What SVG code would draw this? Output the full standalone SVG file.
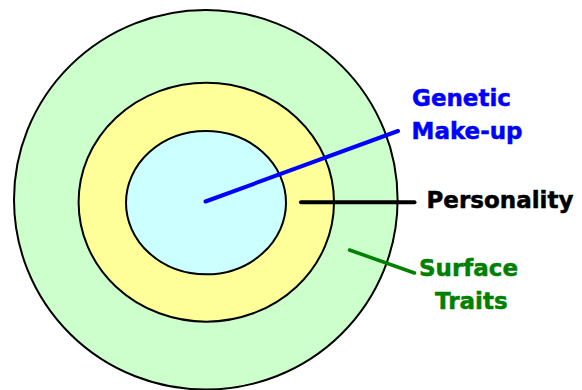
<svg xmlns="http://www.w3.org/2000/svg" width="582" height="390" viewBox="0 0 582 390">
<style>
.ring{stroke:#000;stroke-width:2}
.lbl{font-family:"DejaVu Sans","Verdana",sans-serif;font-weight:bold;font-size:23px;stroke-width:0.5}
.conn{stroke-linecap:round;fill:none}
</style>
<rect width="582" height="390" fill="#fff"/>
<g id="surface-traits-ring"><ellipse class="ring" cx="205.8" cy="199.8" rx="191.8" ry="189.8" fill="#CCFFCC"/></g>
<g id="personality-ring"><ellipse class="ring" cx="206.3" cy="202.2" rx="127.7" ry="119.5" fill="#FFFF99"/></g>
<g id="genetic-core"><ellipse class="ring" cx="206" cy="202.7" rx="80" ry="71.6" fill="#CCFFFF"/></g>
<g id="connectors">
<line class="conn" x1="205.5" y1="201.5" x2="398" y2="131" stroke="#0000FF" stroke-width="4"/>
<line class="conn" x1="301" y1="202.3" x2="414.5" y2="202.3" stroke="#000" stroke-width="4"/>
<line class="conn" x1="349.5" y1="250" x2="414.5" y2="273" stroke="#008000" stroke-width="3.5"/>
</g>
<g id="label-genetic">
<text class="lbl" x="412" y="106" fill="#0000FF" stroke="#0000FF">Genetic</text>
<text class="lbl" x="411.5" y="139" fill="#0000FF" stroke="#0000FF">Make-up</text>
</g>
<g id="label-personality"><text class="lbl" x="426.5" y="207.5" fill="#000" stroke="#000">Personality</text></g>
<g id="label-surface">
<text class="lbl" x="419" y="276" fill="#008000" stroke="#008000">Surface</text>
<text class="lbl" x="435" y="308.5" fill="#008000" stroke="#008000">Traits</text>
</g>
</svg>
